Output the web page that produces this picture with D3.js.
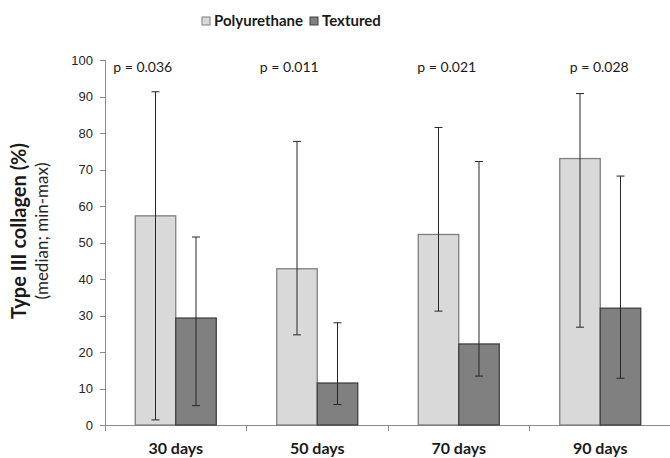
<!DOCTYPE html>
<html lang="en">
<head>
    <meta charset="UTF-8">
    <title>Type III collagen</title>
    <script src="https://d3js.org/d3.v7.min.js"></script>
    <style>
        body {
            margin: 0;
            background: #fff;
            font-family: Lato, "Open Sans", sans-serif;
        }
        .axis path,
        .axis line {
            stroke: #8c8c8c;
            shape-rendering: crispEdges;
        }
        .axis text {
            fill: #262626;
        }
    </style>
</head>
<body>
<svg id="chart"></svg>

<script>
    // data
    const categories = ["30 days", "50 days", "70 days", "90 days"];
    const series = ["Polyurethane", "Textured"];
    const polyMedian = [57.3, 42.8, 52.2, 73.0];
    const polyMin = [1.4, 24.7, 31.2, 26.8];
    const polyMax = [91.3, 77.7, 81.5, 90.8];
    const textMedian = [29.3, 11.5, 22.2, 32.0];
    const textMin = [5.3, 5.6, 13.4, 12.8];
    const textMax = [51.5, 28.0, 72.2, 68.2];
    const pValues = ["p = 0.036", "p = 0.011", "p = 0.021", "p = 0.028"];
    const yTicks = [0, 10, 20, 30, 40, 50, 60, 70, 80, 90, 100];

    // p label nudges (px from group centre), as in the original
    const pOffsets = [-33, -28, -12, -1];

    const fills = ["#d9d9d9", "#808080"];
    const strokes = ["#7f7f7f", "#404040"];

    const width = 670, height = 458;
    const margin = { top: 60, right: -1, bottom: 33, left: 105 };

    const svg = d3.select("#chart")
        .attr("width", width)
        .attr("height", height);

    const x0 = d3.scaleBand()
        .domain(categories)
        .range([margin.left, width - margin.right])
        .paddingInner(0)
        .paddingOuter(0);

    const x1 = d3.scaleBand()
        .domain(series)
        .range([0, x0.bandwidth()])
        .paddingInner(0)
        .paddingOuter(0.747);

    const y = d3.scaleLinear()
        .domain([0, 100])
        .range([height - margin.bottom, margin.top]);

    const rows = categories.map((c, i) => ({
        cat: c,
        vals: [
            { s: series[0], med: polyMedian[i], lo: polyMin[i], hi: polyMax[i] },
            { s: series[1], med: textMedian[i], lo: textMin[i], hi: textMax[i] }
        ]
    }));

    // y axis
    svg.append("g")
        .attr("class", "axis")
        .attr("transform", `translate(${margin.left},0)`)
        .call(d3.axisLeft(y).tickValues(yTicks).tickSize(5).tickPadding(7))
        .call(g => g.select(".domain").attr("d", `M-5,${y(100)}H0V${y(0)}`))
        .selectAll("text")
        .style("font-size", "13px");

    // x axis: line + ticks at category boundaries
    const xg = svg.append("g")
        .attr("class", "axis")
        .attr("transform", `translate(0,${y(0)})`);

    xg.append("line")
        .attr("x1", margin.left - 4)
        .attr("x2", width - margin.right)
        .attr("y1", 0).attr("y2", 0);

    xg.selectAll(".bound")
        .data(categories.concat(["end"]))
        .enter().append("line")
        .attr("class", "bound")
        .attr("x1", (d, i) => i < categories.length ? x0(d) : x0(categories[i - 1]) + x0.bandwidth())
        .attr("x2", (d, i) => i < categories.length ? x0(d) : x0(categories[i - 1]) + x0.bandwidth())
        .attr("y1", 0)
        .attr("y2", 6);

    xg.selectAll(".cat")
        .data(categories)
        .enter().append("text")
        .attr("class", "cat")
        .attr("x", d => x0(d) + x0.bandwidth() / 2)
        .attr("y", 29)
        .attr("text-anchor", "middle")
        .style("font-size", "16px")
        .style("font-weight", "bold")
        .style("fill", "#1a1a1a")
        .text(d => d);

    // bars
    const groups = svg.selectAll(".grp")
        .data(rows)
        .enter().append("g")
        .attr("class", "grp")
        .attr("transform", d => `translate(${x0(d.cat)},0)`);

    groups.selectAll("rect")
        .data(d => d.vals)
        .enter().append("rect")
        .attr("x", d => x1(d.s))
        .attr("y", d => y(d.med))
        .attr("width", x1.bandwidth())
        .attr("height", d => y(0) - y(d.med))
        .attr("fill", (d, i) => fills[i])
        .attr("stroke", (d, i) => strokes[i])
        .attr("stroke-width", 1.3);

    // min-max whiskers
    const err = groups.selectAll(".err")
        .data(d => d.vals)
        .enter().append("g")
        .attr("class", "err")
        .attr("stroke", "#262626")
        .attr("stroke-width", 1);

    const cx = d => x1(d.s) + x1.bandwidth() / 2;
    err.append("line")
        .attr("x1", cx).attr("x2", cx)
        .attr("y1", d => y(d.lo)).attr("y2", d => y(d.hi));
    err.append("line")
        .attr("x1", d => cx(d) - 4).attr("x2", d => cx(d) + 4)
        .attr("y1", d => y(d.hi)).attr("y2", d => y(d.hi));
    err.append("line")
        .attr("x1", d => cx(d) - 4).attr("x2", d => cx(d) + 4)
        .attr("y1", d => y(d.lo)).attr("y2", d => y(d.lo));

    // p values
    svg.selectAll(".pval")
        .data(pValues)
        .enter().append("text")
        .attr("class", "pval")
        .attr("x", (d, i) => x0(categories[i]) + x0.bandwidth() / 2 + pOffsets[i])
        .attr("y", 72)
        .attr("text-anchor", "middle")
        .style("font-size", "14px")
        .style("fill", "#1a1a1a")
        .text(d => d);

    // axis titles
    svg.append("text")
        .attr("transform", `translate(26,231) rotate(-90)`)
        .attr("text-anchor", "middle")
        .style("font-size", "20px")
        .style("font-weight", "bold")
        .style("fill", "#1a1a1a")
        .text("Type III collagen (%)");

    svg.append("text")
        .attr("transform", `translate(48,231) rotate(-90)`)
        .attr("text-anchor", "middle")
        .style("font-size", "17px")
        .style("fill", "#262626")
        .text("(median; min-max)");

    // legend
    const legend = svg.append("g").attr("transform", "translate(202,17)");
    const legX = [0, 108];
    const item = legend.selectAll(".leg")
        .data(series)
        .enter().append("g")
        .attr("class", "leg")
        .attr("transform", (d, i) => `translate(${legX[i]},0)`);
    item.append("rect")
        .attr("width", 8).attr("height", 8)
        .attr("fill", (d, i) => fills[i])
        .attr("stroke", (d, i) => strokes[i]);
    item.append("text")
        .attr("x", 12)
        .attr("y", 9)
        .style("font-size", "15px")
        .style("font-weight", "bold")
        .style("fill", "#1a1a1a")
        .text(d => d);
</script>
</body>
</html>
